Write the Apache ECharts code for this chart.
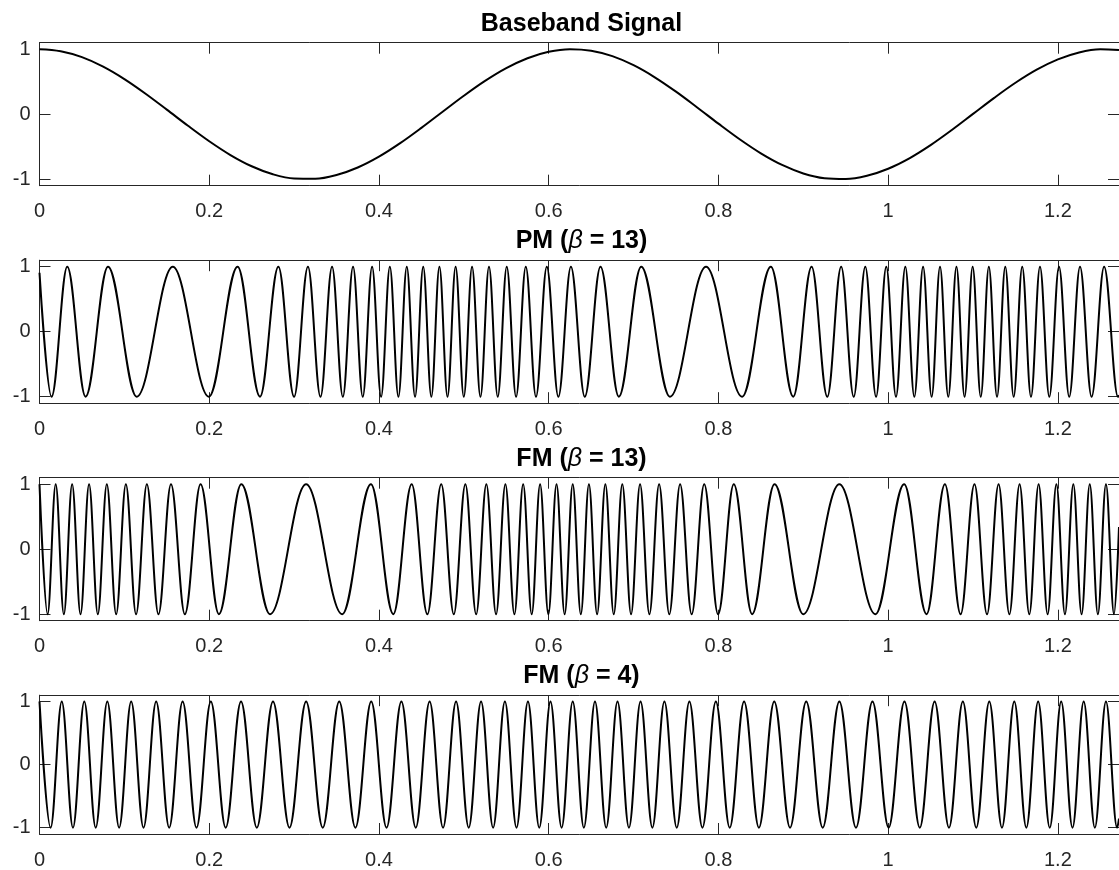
<!DOCTYPE html>
<html>
<head>
<meta charset="utf-8">
<script src="https://cdn.jsdelivr.net/npm/echarts@6/dist/echarts.min.js"></script>
<style>
html, body { margin: 0; padding: 0; background: #ffffff; }
#chart { width: 1119px; height: 870px; }
</style>
</head>
<body>
<div id="chart"></div>
<script>
// ---------------- data ----------------
const xTicks = [0, 0.2, 0.4, 0.6, 0.8, 1, 1.2];
const yTicks = [-1, 0, 1];
const tMax = 1.272;

const titleTexts = [
  'Baseband Signal',
  '{b|PM (}{g|β}{b| = 13)}',
  '{b|FM (}{g|β}{b| = 13)}',
  '{b|FM (}{g|β}{b| = 4)}'
];

// Baseband signal: sampled values
const baseT = [0, 0.025, 0.05, 0.075, 0.1, 0.125, 0.15, 0.175, 0.2, 0.225, 0.25, 0.275, 0.3, 0.325, 0.35, 0.375,
  0.4, 0.425, 0.45, 0.475, 0.5, 0.525, 0.55, 0.575, 0.6, 0.625, 0.65, 0.675, 0.7, 0.725, 0.75, 0.775,
  0.8, 0.825, 0.85, 0.875, 0.9, 0.925, 0.95, 0.975, 1.0, 1.025, 1.05, 1.075, 1.1, 1.125, 1.15, 1.175,
  1.2, 1.225, 1.25, 1.272];
const baseV = [1, 0.968912, 0.877583, 0.731689, 0.540302, 0.315322, 0.070737, -0.178246, -0.416147, -0.628174,
  -0.801144, -0.924302, -0.989992, -0.994130, -0.936457, -0.820559, -0.653644, -0.446088, -0.210796, 0.037602,
  0.283662, 0.512085, 0.708670, 0.861192, 0.960170, 0.999449, 0.976588, 0.893007, 0.753902, 0.567923,
  0.346635, 0.103794, -0.145500, -0.385749, -0.602012, -0.780845, -0.911130, -0.984765, -0.997172, -0.947579,
  -0.839072, -0.678393, -0.475537, -0.243113, 0.004426, 0.251690, 0.483305, 0.684871, 0.843854, 0.950371,
  0.997798, 0.988222];

// PM (beta = 13): times of the crests (+1) and troughs (-1), plus the two end samples
const pmPeaks = [0.032690, 0.080710, 0.157079, 0.233449, 0.281469, 0.316312, 0.344730, 0.369468, 0.391902,
  0.412833, 0.432789, 0.452153, 0.471239, 0.490325, 0.509689, 0.529645, 0.550576, 0.573010, 0.597748,
  0.626166, 0.661009, 0.709029, 0.785398, 0.861768, 0.909788, 0.944631, 0.973049, 0.997787, 1.020221,
  1.041152, 1.061108, 1.080472, 1.099557, 1.118643, 1.138007, 1.157963, 1.178894, 1.201328, 1.226066,
  1.254484];
const pmTroughs = [0.014193, 0.054308, 0.114558, 0.199601, 0.259851, 0.299966, 0.331105, 0.357454, 0.380914,
  0.402518, 0.422906, 0.442524, 0.461713, 0.480765, 0.499954, 0.519572, 0.539960, 0.561564, 0.585024,
  0.611373, 0.642512, 0.682627, 0.742877, 0.827920, 0.888170, 0.928285, 0.959424, 0.985773, 1.009233,
  1.030837, 1.051225, 1.070843, 1.090032, 1.109083, 1.128272, 1.147890, 1.168278, 1.189882, 1.213342,
  1.239691, 1.270830];
const pmEnds = [[0, 0.9074], [1.272, -0.9777]];

// FM (beta = 13)
const fm13Peaks = [0, 0.019086, 0.038450, 0.058406, 0.079337, 0.101771, 0.126509, 0.154927, 0.189770, 0.237790,
  0.314159, 0.390529, 0.438549, 0.473392, 0.501810, 0.526548, 0.548982, 0.569913, 0.589869, 0.609233,
  0.628319, 0.647405, 0.666769, 0.686725, 0.707656, 0.730090, 0.754828, 0.783246, 0.818089, 0.866109,
  0.942478, 1.018848, 1.066868, 1.101711, 1.130129, 1.154867, 1.177301, 1.198232, 1.218188, 1.237552,
  1.256637];
const fm13Troughs = [0.009526, 0.028715, 0.048333, 0.068721, 0.090325, 0.113785, 0.140134, 0.171273, 0.211388,
  0.271638, 0.356681, 0.416931, 0.457046, 0.488185, 0.514534, 0.537994, 0.559598, 0.579986, 0.599604,
  0.618793, 0.637845, 0.657034, 0.676652, 0.697040, 0.718644, 0.742104, 0.768453, 0.799592, 0.839707,
  0.899957, 0.985000, 1.045250, 1.085365, 1.116504, 1.142853, 1.166313, 1.187917, 1.208305, 1.227923,
  1.247112, 1.266163];
const fm13Ends = [[1.272, 0.3425]];

// FM (beta = 4)
const fm4Peaks = [0, 0.026230, 0.052762, 0.079913, 0.108022, 0.137463, 0.168629, 0.201886, 0.237446, 0.275135,
  0.314159, 0.353184, 0.390873, 0.426433, 0.459690, 0.490856, 0.520297, 0.548406, 0.575557, 0.602089,
  0.628319, 0.654549, 0.681081, 0.708232, 0.736341, 0.765782, 0.796948, 0.830205, 0.865765, 0.903454,
  0.942478, 0.981503, 1.019192, 1.054752, 1.088009, 1.119175, 1.148616, 1.176725, 1.203876, 1.230408,
  1.256637];
const fm4Troughs = [0.013096, 0.039439, 0.066240, 0.093825, 0.122552, 0.152806, 0.184977, 0.219377, 0.256058,
  0.294556, 0.333763, 0.372261, 0.408942, 0.443342, 0.475513, 0.505767, 0.534494, 0.562079, 0.588880,
  0.615223, 0.641415, 0.667758, 0.694559, 0.722144, 0.750871, 0.781125, 0.813296, 0.847696, 0.884377,
  0.922875, 0.962082, 1.000580, 1.037261, 1.071661, 1.103832, 1.134086, 1.162813, 1.190398, 1.217199,
  1.243542, 1.269733];
const fm4Ends = [[1.272, -0.8561]];

// ---------------- layout / style ----------------
const FONT = "'Liberation Sans', Arial, Helvetica, sans-serif";
const AXIS_COLOR = '#262626';
const PLOT_LEFT = 39.5;
const PLOT_W = 1084;
const PLOT_H = 143;
const panelTops = [42.7, 260.2, 477.7, 695.2];
const titleOffset = 31.5;
const TITLE_SIZE = 25;

function waveData(peaks, troughs, extra) {
  const pts = peaks.map(t => [t, 1]).concat(troughs.map(t => [t, -1])).concat(extra);
  pts.sort((a, b) => a[0] - b[0]);
  return pts;
}

const grids = [], xAxes = [], yAxes = [], titles = [];
panelTops.forEach((top, i) => {
  grids.push({ left: PLOT_LEFT, top: top, width: PLOT_W, height: PLOT_H, containLabel: false });
  const lineStyle = { color: AXIS_COLOR, width: 1 };
  const baseX = {
    type: 'value', gridIndex: i, min: 0, max: tMax, interval: 0.2,
    axisLine: { show: true, onZero: false, lineStyle: lineStyle },
    axisTick: { show: true, inside: true, length: 11, customValues: xTicks, lineStyle: lineStyle },
    splitLine: { show: false }
  };
  xAxes.push(Object.assign({}, baseX, {
    position: 'bottom',
    axisLabel: { show: true, customValues: xTicks, margin: 16, fontSize: 20, fontFamily: FONT, color: AXIS_COLOR }
  }));
  xAxes.push(Object.assign({}, baseX, { position: 'top', axisLabel: { show: false } }));
  const baseY = {
    type: 'value', gridIndex: i, min: -1.1, max: 1.1,
    axisLine: { show: true, onZero: false, lineStyle: lineStyle },
    axisTick: { show: true, inside: true, length: 11, customValues: yTicks, lineStyle: lineStyle },
    splitLine: { show: false }
  };
  yAxes.push(Object.assign({}, baseY, {
    position: 'left',
    axisLabel: { show: true, customValues: yTicks, margin: 9, fontSize: 20, fontFamily: FONT, color: AXIS_COLOR }
  }));
  yAxes.push(Object.assign({}, baseY, { position: 'right', axisLabel: { show: false } }));
  titles.push({
    text: titleTexts[i],
    left: PLOT_LEFT + PLOT_W / 2,
    top: top - titleOffset,
    textAlign: 'center',
    padding: 0,
    textStyle: {
      fontFamily: FONT, fontSize: TITLE_SIZE, fontWeight: 'bold', color: '#000000',
      rich: {
        b: { fontFamily: FONT, fontSize: TITLE_SIZE, fontWeight: 'bold', color: '#000000' },
        g: { fontFamily: FONT, fontSize: TITLE_SIZE, fontWeight: 'normal', fontStyle: 'italic', color: '#000000' }
      }
    }
  });
});

const lineCommon = {
  type: 'line', symbol: 'none', showSymbol: false, silent: true, animation: false,
  lineStyle: { color: '#000000', width: 2 }
};

const series = [
  Object.assign({}, lineCommon, {
    xAxisIndex: 0, yAxisIndex: 0, smooth: 0.35,
    data: baseT.map((t, i) => [t, baseV[i]])
  }),
  Object.assign({}, lineCommon, {
    xAxisIndex: 2, yAxisIndex: 2, smooth: 0.3642, smoothMonotone: 'x',
    data: waveData(pmPeaks, pmTroughs, pmEnds)
  }),
  Object.assign({}, lineCommon, {
    xAxisIndex: 4, yAxisIndex: 4, smooth: 0.3642, smoothMonotone: 'x',
    data: waveData(fm13Peaks, fm13Troughs, fm13Ends)
  }),
  Object.assign({}, lineCommon, {
    xAxisIndex: 6, yAxisIndex: 6, smooth: 0.3642, smoothMonotone: 'x',
    data: waveData(fm4Peaks, fm4Troughs, fm4Ends)
  })
];

const chart = echarts.init(document.getElementById('chart'), null, { renderer: 'canvas' });
chart.setOption({
  backgroundColor: '#ffffff',
  animation: false,
  title: titles,
  grid: grids,
  xAxis: xAxes,
  yAxis: yAxes,
  series: series
});
</script>
</body>
</html>
